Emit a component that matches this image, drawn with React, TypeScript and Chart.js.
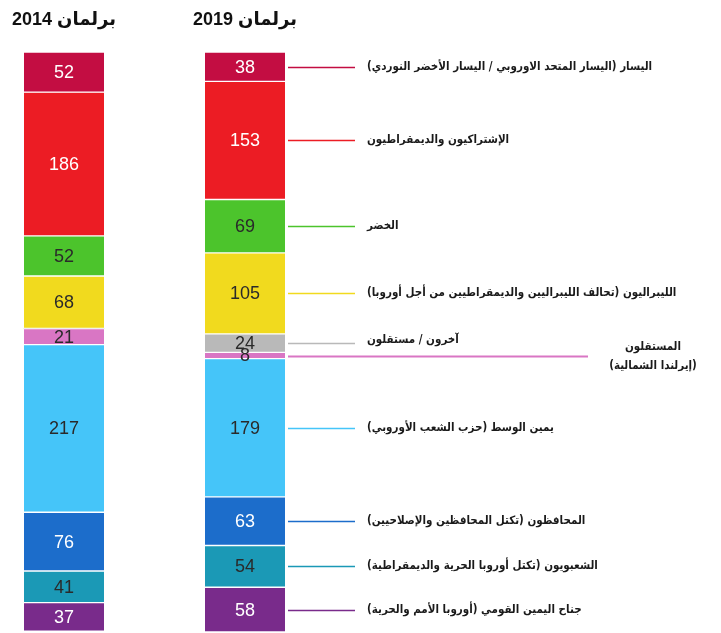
import React, { useEffect, useRef } from "react";
import { Chart, registerables } from "chart.js";

Chart.register(...registerables);

const parliaments = ["برلمان 2014", "برلمان 2019"];

const groups = [
  "اليسار (اليسار المتحد الاوروبي / اليسار الأخضر النوردي)",
  "الإشتراكيون والديمقراطيون",
  "الخضر",
  "الليبراليون (تحالف الليبراليين والديمقراطيين من أجل أوروبا)",
  "آخرون / مستقلون",
  "المستقلون\n(إيرلندا الشمالية)",
  "يمين الوسط (حزب الشعب الأوروبي)",
  "المحافظون (تكتل المحافظين والإصلاحيين)",
  "الشعبويون (تكتل أوروبا الحرية والديمقراطية)",
  "جناح اليمين القومي (أوروبا الأمم والحرية)",
];

const seats2014 = [52, 186, 52, 68, 0, 21, 217, 76, 41, 37];
const seats2019 = [38, 153, 69, 105, 24, 8, 179, 63, 54, 58];

const colors = [
  "#C30D42",
  "#EC1C24",
  "#4CC42C",
  "#F1DA1E",
  "#B9B9B9",
  "#D976C4",
  "#45C5F9",
  "#1C6DCB",
  "#1B99B6",
  "#792B8B",
];
const valueColors = [
  "#ffffff",
  "#ffffff",
  "#2a2a2a",
  "#2a2a2a",
  "#2a2a2a",
  "#2a2a2a",
  "#2a2a2a",
  "#ffffff",
  "#2a2a2a",
  "#ffffff",
];
const LONG_LEADER = 5; // the small pink group gets a long leader and a side label

const annotPlugin = {
  id: "annot",
  afterDatasetsDraw(chart: any) {
    const ctx = chart.ctx;
    ctx.save();
    // values inside segments
    chart.data.datasets.forEach((ds: any, di: number) => {
      const meta = chart.getDatasetMeta(di);
      meta.data.forEach((bar: any, i: number) => {
        const v = ds.data[i];
        if (!v) return;
        const p = bar.getProps(["x", "y", "base"], true);
        const cy = (p.y + p.base) / 2;
        ctx.fillStyle = valueColors[di];
        ctx.font = '18px "Liberation Sans", Arial, sans-serif';
        ctx.textAlign = "center";
        ctx.textBaseline = "middle";
        ctx.fillText(String(v), p.x, cy + 1);
      });
    });
    // titles above bars
    const meta0 = chart.getDatasetMeta(0);
    chart.data.labels.forEach((lab: string, i: number) => {
      const bar = meta0.data[i];
      ctx.fillStyle = "#111";
      ctx.font = 'bold 18px "Liberation Sans", "DejaVu Sans", sans-serif';
      ctx.textAlign = "center";
      ctx.textBaseline = "middle";
      ctx.direction = "rtl";
      ctx.fillText(lab, bar.x, 12);
      ctx.direction = "ltr";
    });
    // leaders and group labels for the last parliament
    const last = chart.data.labels.length - 1;
    chart.data.datasets.forEach((ds: any, di: number) => {
      const bar = chart.getDatasetMeta(di).data[last];
      if (!ds.data[last]) return;
      const p = bar.getProps(["x", "y", "base", "width"], true);
      const cy = Math.round((p.y + p.base) / 2) + 0.5;
      const x0 = p.x + p.width / 2 + 3;
      const long = di === LONG_LEADER;
      const x1 = long ? x0 + 300 : x0 + 67;
      ctx.strokeStyle = ds.backgroundColor;
      ctx.lineWidth = long ? 2 : 1.5;
      ctx.beginPath();
      ctx.moveTo(x0, cy);
      ctx.lineTo(x1, cy);
      ctx.stroke();
      ctx.fillStyle = "#1a1a1a";
      ctx.font = 'bold 11.5px "DejaVu Sans Condensed", "DejaVu Sans", sans-serif';
      ctx.textBaseline = "middle";
      ctx.direction = "rtl";
      const lines = String(ds.label).split("\n");
      if (long) {
        ctx.textAlign = "center";
        lines.forEach((ln, k) => ctx.fillText(ln, x1 + 65, cy - 9 + k * 19));
      } else {
        ctx.textAlign = "left";
        const dy = di === 4 ? -3 : 0;
        ctx.fillText(lines[0], x0 + 79, cy + dy);
      }
      ctx.direction = "ltr";
    });
    ctx.restore();
  },
};

export default function App() {
  const ref = useRef<HTMLCanvasElement>(null);
  useEffect(() => {
    if (!ref.current) return;
    const chart = new Chart(ref.current, {
      type: "bar",
      data: {
        labels: parliaments,
        datasets: groups.map((g, i) => ({
          label: g,
          data: [seats2014[i], seats2019[i]],
          backgroundColor: colors[i],
          borderColor: "rgba(255,255,255,0.95)",
          borderWidth: { top: 1, bottom: 1, left: 0, right: 0 },
          borderSkipped: false,
          barThickness: 80,
          clip: false as any,
        })),
      },
      options: {
        animation: false,
        responsive: false,
        devicePixelRatio: 1,
        layout: { padding: { left: 56, right: 476, top: 44, bottom: 1 } },
        plugins: { legend: { display: false }, tooltip: { enabled: false } },
        scales: {
          x: { type: "category", offset: false, stacked: true, display: false },
          y: { stacked: true, reverse: true, min: 0, max: 751, display: false },
        },
      },
      plugins: [annotPlugin],
    });
    return () => chart.destroy();
  }, []);
  return (
    <div style={{ width: 713, height: 625 }}>
      <canvas ref={ref} width={713} height={625} style={{ display: "block" }} />
    </div>
  );
}
